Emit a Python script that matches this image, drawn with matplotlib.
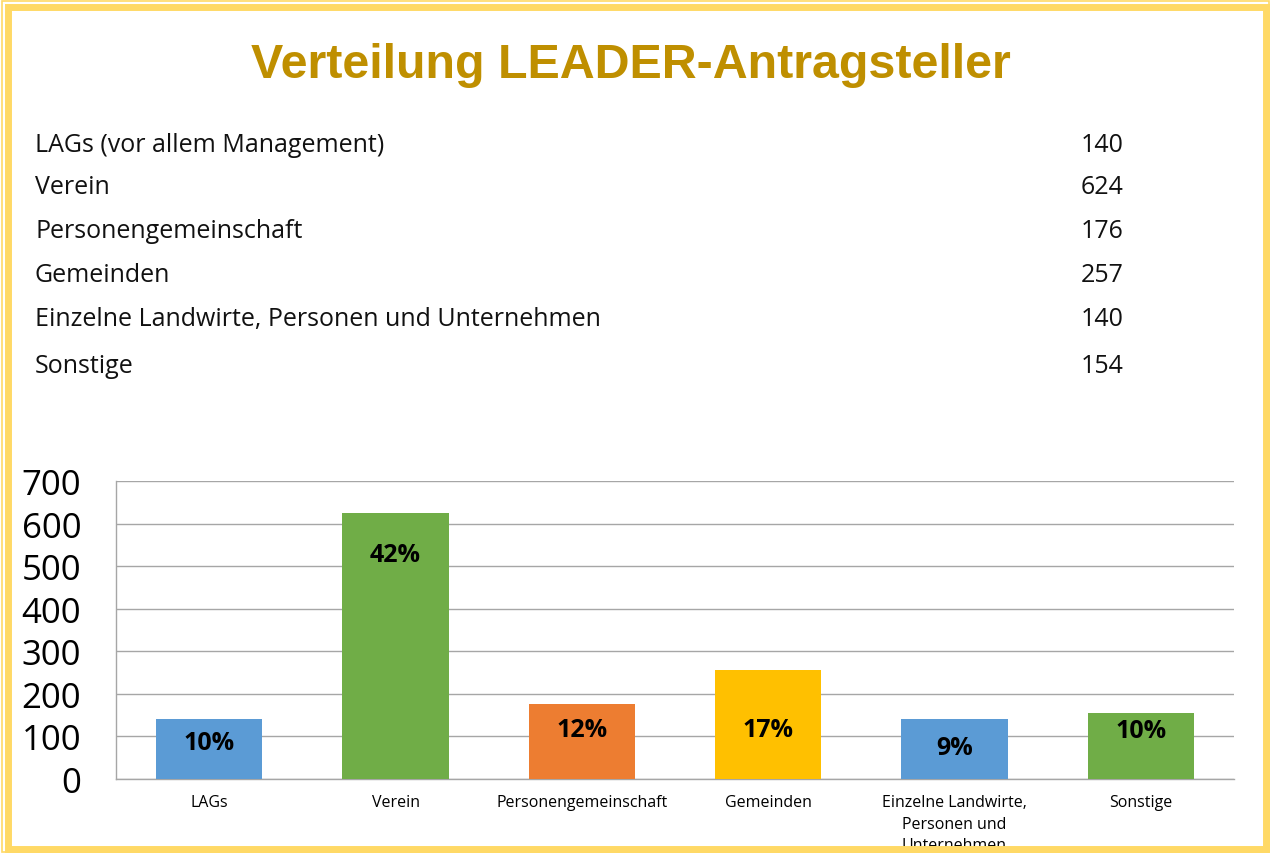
import matplotlib.pyplot as plt
from matplotlib.patches import Rectangle

# Data
table_labels = ["LAGs (vor allem Management)", "Verein", "Personengemeinschaft",
                "Gemeinden", "Einzelne Landwirte, Personen und Unternehmen", "Sonstige"]
categories = ["LAGs", "Verein", "Personengemeinschaft", "Gemeinden",
              "Einzelne Landwirte,\nPersonen und\nUnternehmen", "Sonstige"]
counts = [140, 624, 176, 257, 140, 154]
percent_labels = ["10%", "42%", "12%", "17%", "9%", "10%"]

# Layout / style
bar_colors = ["#5B9BD5", "#70AD47", "#ED7D31", "#FFC000", "#5B9BD5", "#70AD47"]
label_y = [86, 528, 117, 117, 74, 115]
row_y = [145, 188, 232, 276, 320, 367]
title_color = "#BF8F00"
frame_color = "#FFD966"
grid_color = "#A6A6A6"

W, H = 1270, 854
fig = plt.figure(figsize=(W / 100, H / 100), dpi=100)
fig.patch.set_facecolor("white")

fig.text(631 / W, 1 - 65 / H, "Verteilung LEADER-Antragsteller", ha="center", va="center",
         fontsize=34.8, fontweight="bold", color=title_color, family="Liberation Sans")

for lab, cnt, y in zip(table_labels, counts, row_y):
    fig.text(35 / W, 1 - y / H, lab, ha="left", va="center", fontsize=18,
             family="Open Sans", color="#111111")
    fig.text(1124 / W, 1 - y / H, str(cnt), ha="right", va="center", fontsize=18,
             family="Open Sans", color="#111111")

ax = fig.add_axes([116 / W, 1 - 780 / H, (1234 - 116) / W, (780 - 482) / H])
x = range(len(categories))
ax.bar(x, counts, width=0.57, color=bar_colors, zorder=3)
for xi, t, ly in zip(x, percent_labels, label_y):
    ax.text(xi, ly, t, ha="center", va="center", fontsize=18, fontweight="bold",
            family="Open Sans", color="black", zorder=4)

ax.set_xlim(-0.5, len(categories) - 0.5)
ax.set_ylim(0, 700)
ax.set_yticks(range(0, 701, 100))
ax.set_xticks(list(x))
ax.set_xticklabels(categories, fontsize=11.5, family="Open Sans", linespacing=1.45)
for t in ax.get_yticklabels():
    t.set_fontsize(25)
    t.set_family("Open Sans")
ax.tick_params(axis="y", length=0, pad=25)
ax.tick_params(axis="x", length=0, pad=11)
ax.grid(axis="y", color=grid_color, linewidth=1, zorder=0)
for s in ["top", "right"]:
    ax.spines[s].set_visible(False)
for s in ["left", "bottom"]:
    ax.spines[s].set_color(grid_color)
    ax.spines[s].set_linewidth(1)

# Frame
fig.add_artist(Rectangle((1.5 / W, 1.5 / H), (W - 3) / W, (H - 3) / H, transform=fig.transFigure,
                         fill=False, edgecolor=frame_color, linewidth=1.2, zorder=10))
fig.add_artist(Rectangle((8 / W, 4 / H), (W - 12) / W, (H - 12) / H, transform=fig.transFigure,
                         fill=False, edgecolor=frame_color, linewidth=5, zorder=10))

fig.savefig("out.png", dpi=100)
